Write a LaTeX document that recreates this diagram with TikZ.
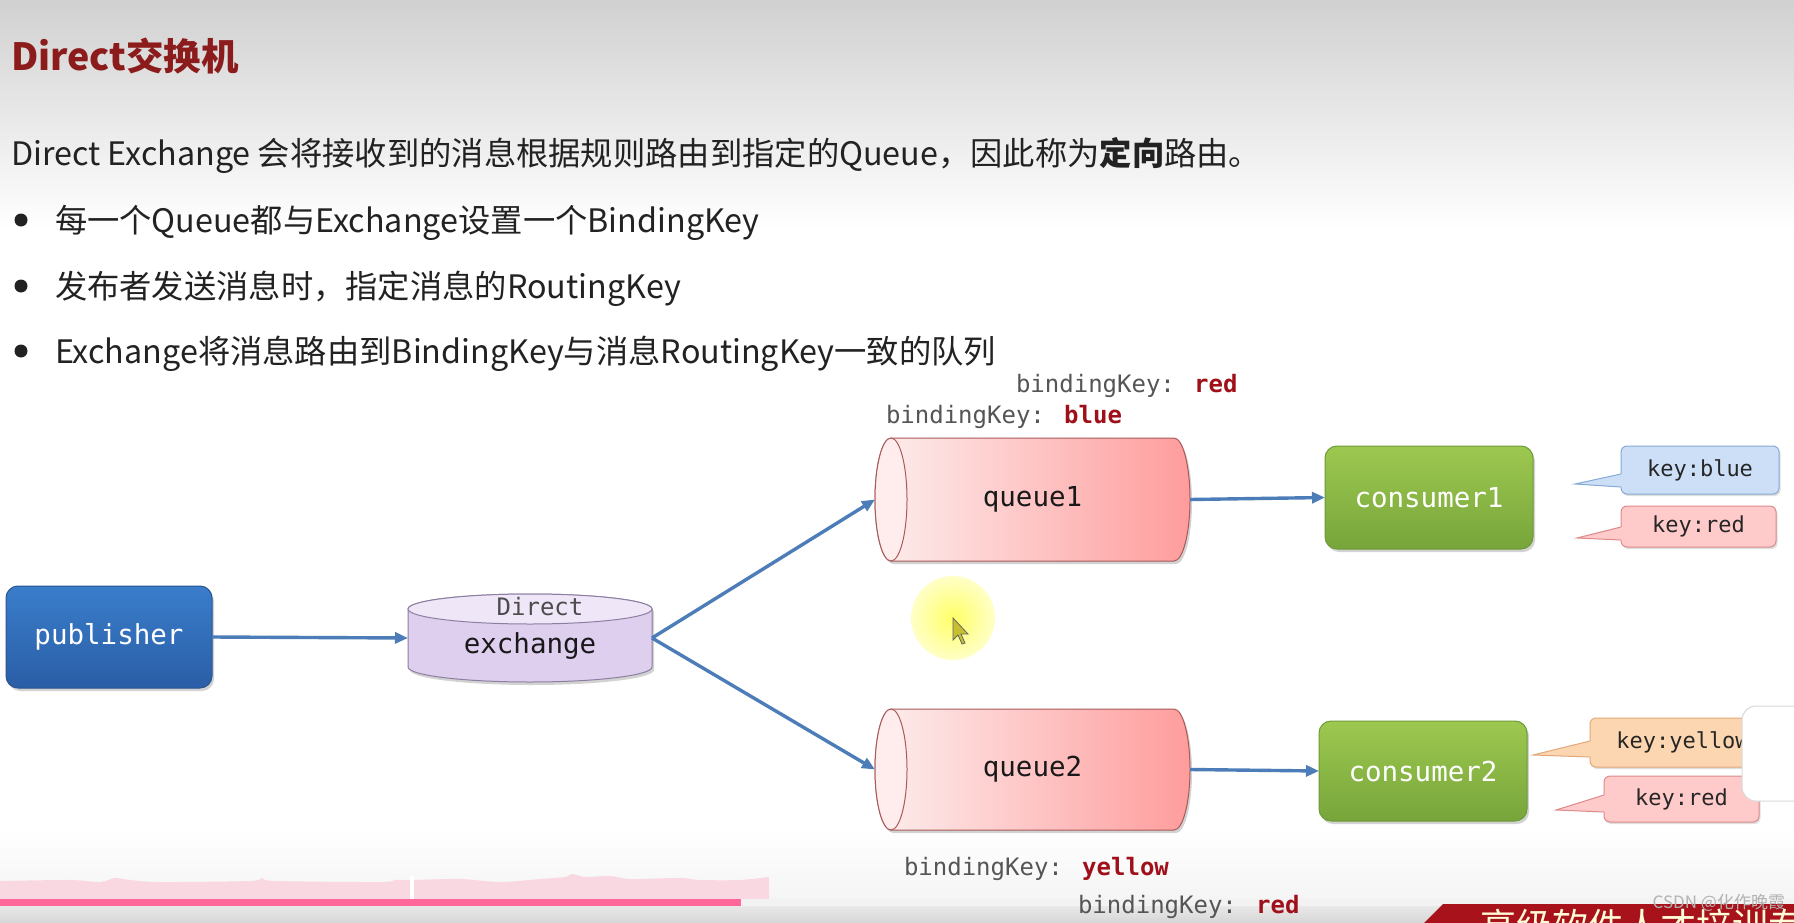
\documentclass[tikz,border=0pt]{standalone}
\usepackage{fontspec}
\setmainfont{Noto Sans CJK SC}
\newfontfamily\monof{DejaVu Sans Mono}
\usetikzlibrary{arrows.meta,shadows}
\definecolor{titlered}{HTML}{8C1C1C}
\definecolor{keyred}{HTML}{A0101A}
\definecolor{keygray}{HTML}{555555}
\definecolor{arrowblue}{HTML}{4C7DB8}
\definecolor{pubtop}{HTML}{3A7DCB}
\definecolor{pubbot}{HTML}{2A5EA6}
\definecolor{pubdraw}{HTML}{2A5590}
\definecolor{grtop}{HTML}{9DC850}
\definecolor{grbot}{HTML}{77A53A}
\definecolor{grdraw}{HTML}{6E9A38}
\definecolor{exfill}{HTML}{DFCFEE}
\definecolor{exend}{HTML}{EFE6F8}
\definecolor{exdraw}{HTML}{8C7FA0}
\definecolor{qleft}{HTML}{FDEEEE}
\definecolor{qright}{HTML}{FF9C9C}
\definecolor{qdraw}{HTML}{A85A5A}
\definecolor{qend}{HTML}{FFEDED}
\definecolor{cblue}{HTML}{CCDFF7}
\definecolor{cbluedraw}{HTML}{86A9D6}
\definecolor{cred}{HTML}{FFCACA}
\definecolor{creddraw}{HTML}{DC8A8A}
\definecolor{cyel}{HTML}{FCD6B0}
\definecolor{cyeldraw}{HTML}{E3A878}
\definecolor{barpink}{HTML}{FF6699}
\definecolor{wavepink}{HTML}{F9D8E2}
\definecolor{banred}{HTML}{A8121A}
\definecolor{bodytext}{HTML}{222222}
\begin{document}
\begin{tikzpicture}[x=1pt,y=-1pt,
  every node/.style={inner sep=0pt, outer sep=0pt},
  bodyline/.style={font=\fontsize{32.3}{38}\selectfont, anchor=base west, text=bodytext},
  monolbl/.style={font=\monof\fontsize{27.5}{32}\selectfont},
  bk/.style={font=\monof\fontsize{24}{28}\selectfont, anchor=base west, text=keygray},
  keytext/.style={font=\monof\fontsize{22}{26}\selectfont, text=black!85},
  arr/.style={draw=arrowblue, line width=3.4pt, -{Triangle[length=13pt,width=11pt]}},
  shd/.style={drop shadow={opacity=0.35, shadow xshift=2pt, shadow yshift=-3pt}},
  bluebox/.style={draw=pubdraw, line width=1pt, rounded corners=12pt, top color=pubtop, bottom color=pubbot, text=white, monolbl, shd},
  greenbox/.style={draw=grdraw, line width=1pt, rounded corners=12pt, top color=grtop, bottom color=grbot, text=white, monolbl, shd},
  callbox/.style 2 args={draw=#2, fill=#1, rounded corners=6pt, line width=1pt, keytext, drop shadow={opacity=0.25, shadow xshift=1.5pt, shadow yshift=-2pt}},
  bullet/.style={circle, fill=bodytext, minimum size=13pt}
]
\useasboundingbox (0,0) rectangle (1794,923);
% background
\fill[white] (0,0) rectangle (1794,923);
\shade[top color=black!18, bottom color=white] (0,0) rectangle (1794,230);
\shade[top color=white, bottom color=black!4] (0,830) rectangle (1794,899);
\fill[wavepink] (0,899) -- plot[smooth] coordinates {(0,881) (70,880) (100,882) (115,878) (130,880) (160,882) (250,881) (262,878) (275,881) (380,882) (395,880) (412,880) (460,879) (500,882) (540,879) (565,877) (572,874) (585,877) (610,876) (630,879) (680,878) (700,880) (740,880) (769,877)} -- (769,899) -- cycle;
\fill[white] (410,876) rectangle (414,899);
\fill[barpink] (0,899) rectangle (741,906);
\fill[black!5] (741,899) rectangle (1794,906);
\shade[top color=black!9, bottom color=black!16] (0,906) rectangle (1794,923);

% texts
\node[font=\fontsize{37.5}{42}\selectfont\bfseries, text=titlered, anchor=base west] (title) at (11,71) {Direct交换机};
\node[bodyline] (l1) at (11,166) {Direct Exchange 会将接收到的消息根据规则路由到指定的Queue，因此称为{\bfseries 定向}路由。};
\node[bullet] (b1) at (21,220) {};
\node[bullet] (b2) at (21,286) {};
\node[bullet] (b3) at (21,351) {};
\node[bodyline] (t1) at (55,232) {每一个Queue都与Exchange设置一个BindingKey};
\node[bodyline] (t2) at (55,298) {发布者发送消息时，指定消息的RoutingKey};
\node[bodyline] (t3) at (55,363) {Exchange将消息路由到BindingKey与消息RoutingKey一致的队列};

% binding keys
\node[bk] (bk1) at (1016,392) {bindingKey: \textcolor{keyred}{\bfseries red}};
\node[bk] (bk2) at (886,423) {bindingKey: \textcolor{keyred}{\bfseries blue}};
\node[bk] (bk3) at (904,875) {bindingKey: \textcolor{keyred}{\bfseries yellow}};
\node[bk] (bk4) at (1078,913) {bindingKey: \textcolor{keyred}{\bfseries red}};

% publisher
\node[bluebox, minimum width=206pt, minimum height=102pt] (pub) at (109,637) {publisher};

% exchange cylinder
\path[fill=exfill, draw=exdraw, line width=1pt, shd] (408,609) -- (408,667) arc[start angle=180,end angle=360,x radius=122pt,y radius=15pt] -- (652,609) arc[start angle=0,end angle=180,x radius=122pt,y radius=15pt] -- cycle;
\path[fill=exend, draw=exdraw, line width=1pt] (530,609) ellipse[x radius=122pt, y radius=15pt];
\node[minimum width=244pt, minimum height=88pt] (ex) at (530,638) {};
\node[font=\monof\fontsize{24}{28}\selectfont, text=black!70] (exd) at (540,607) {Direct};
\node[monolbl, text=black!90] (exn) at (530,646) {exchange};

% queue1
\path[left color=qleft, right color=qright, draw=qdraw, line width=1pt, shd] (891,438) -- (1174,438) arc[start angle=90,end angle=-90,x radius=16pt,y radius=61.5pt] -- (891,561) arc[start angle=270,end angle=90,x radius=16pt,y radius=61.5pt] -- cycle;
\path[fill=qend, draw=qdraw, line width=1pt] (891,499.5) ellipse[x radius=16pt, y radius=61.5pt];
\node[monolbl, text=black!90, minimum width=315pt, minimum height=123pt] (q1) at (1032.5,499.5) {queue1};

% queue2
\path[left color=qleft, right color=qright, draw=qdraw, line width=1pt, shd] (891,709) -- (1174,709) arc[start angle=90,end angle=-90,x radius=16pt,y radius=60.5pt] -- (891,830) arc[start angle=270,end angle=90,x radius=16pt,y radius=60.5pt] -- cycle;
\path[fill=qend, draw=qdraw, line width=1pt] (891,769.5) ellipse[x radius=16pt, y radius=60.5pt];
\node[monolbl, text=black!90, minimum width=315pt, minimum height=121pt] (q2) at (1032.5,769.5) {queue2};

% consumers
\node[greenbox, minimum width=208pt, minimum height=103pt] (c1) at (1429,497.5) {consumer1};
\node[greenbox, minimum width=208pt, minimum height=100pt] (c2) at (1423,771) {consumer2};

% connectors
\draw[arr] (pub.east) -- (ex.west);
\draw[arr] (ex.east) -- (q1.west);
\draw[arr] (ex.east) -- (q2.west);
\draw[arr] (q1.east) -- (c1.west);
\draw[arr] (q2.east) -- (c2.west);

% callouts
\node[callbox={cblue}{cbluedraw}, minimum width=158pt, minimum height=48pt] (kb) at (1700,470) {key:blue};
\fill[cblue] (1624,474) -- (1621,474) -- (1575,484) -- (1621,487) -- (1624,487) -- cycle;
\draw[cbluedraw, line width=1pt] (1621,474) -- (1575,484) -- (1621,487);

\node[callbox={cred}{creddraw}, minimum width=155pt, minimum height=41pt] (kr1) at (1698.5,526.5) {key:red};
\fill[cred] (1624,527) -- (1621,527) -- (1577,538) -- (1621,540) -- (1624,540) -- cycle;
\draw[creddraw, line width=1pt] (1621,527) -- (1577,538) -- (1621,540);

\node[callbox={cyel}{cyeldraw}, minimum width=185pt, minimum height=49pt] (ky) at (1682.5,742.5) {key:yellow};
\fill[cyel] (1593,741) -- (1590,741) -- (1533,755) -- (1590,757) -- (1593,757) -- cycle;
\draw[cyeldraw, line width=1pt] (1590,741) -- (1533,755) -- (1590,757);

\node[callbox={cred}{creddraw}, minimum width=155pt, minimum height=46pt] (kr2) at (1681.5,799) {key:red};
\fill[cred] (1607,795) -- (1604,795) -- (1556,810) -- (1604,812) -- (1607,812) -- cycle;
\draw[creddraw, line width=1pt] (1604,795) -- (1556,810) -- (1604,812);

% video overlay on the right edge
\path[fill=white, draw=black!15, line width=1pt, rounded corners=14pt] (1742,706) rectangle (1820,801);

% pointer highlight
\shade[inner color=yellow!60, outer color=yellow!22] (953,618) circle[radius=42pt];
\path[fill=yellow!75!black, draw=black!60, line width=0.8pt] (953,618) -- (953,640) -- (958,635) -- (962,644) -- (965,643) -- (961,634) -- (968,634) -- cycle;

% bottom banner
\fill[banred] (1443,904) -- (1794,904) -- (1794,923) -- (1424,923) -- cycle;
\begin{scope}
\clip (1443,904) -- (1794,904) -- (1794,923) -- (1424,923) -- cycle;
\node[font=\fontsize{36}{40}\selectfont, text=white!85!yellow, anchor=north west] (ban) at (1480,909) {高级软件人才培训专};
\end{scope}
\node[font=\fontsize{17}{20}\selectfont, text=black!30, anchor=east] (csdn) at (1785,903) {CSDN @化作晚霞};
\end{tikzpicture}
\end{document}
